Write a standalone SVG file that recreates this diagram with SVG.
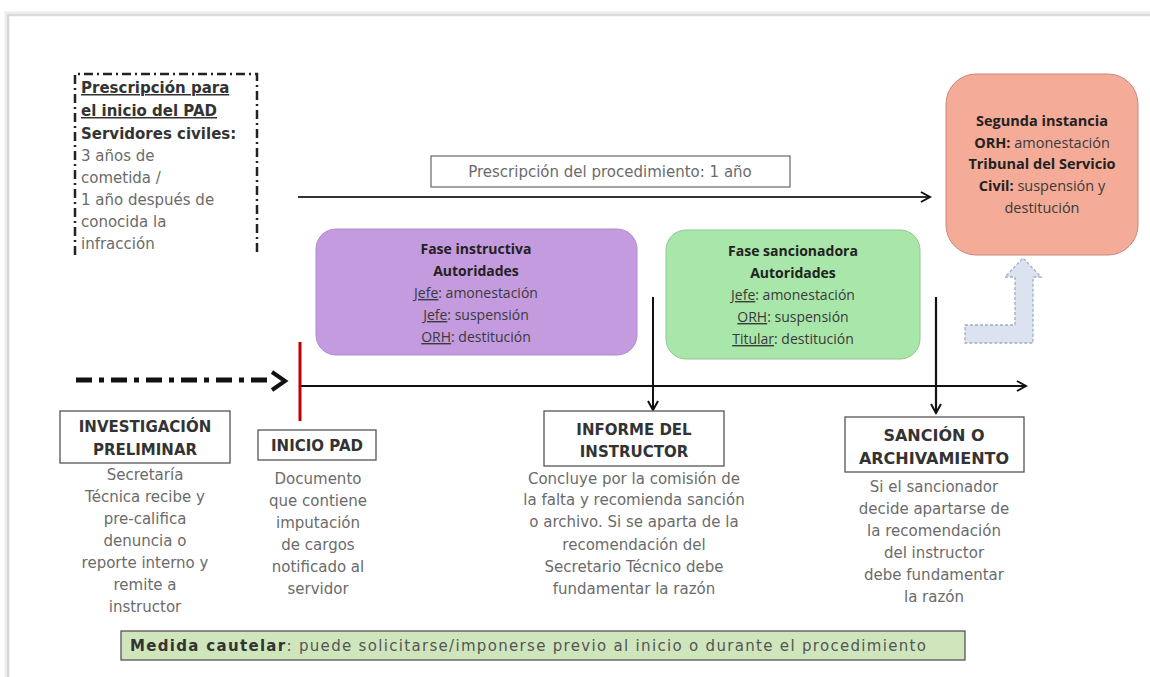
<svg xmlns="http://www.w3.org/2000/svg" width="1150" height="677" viewBox="0 0 1150 677">
<defs>
<style>
.g{font-family:"DejaVu Sans","Liberation Sans",sans-serif;font-size:15px;fill:#6b6b6b;}
.gh{font-family:"DejaVu Sans","Liberation Sans",sans-serif;font-size:15px;font-weight:bold;fill:#333;}
.c{font-family:"Open Sans","Liberation Sans",sans-serif;font-size:14px;fill:#3a3a3a;}
.s{font-size:14.5px;}
.cb{font-weight:bold;fill:#222;}
.box{fill:#fff;stroke:#555;stroke-width:1.3;}
.mid{text-anchor:middle;}
.u{text-decoration:underline;}
</style>
<marker id="ah" markerWidth="12" markerHeight="12" refX="10" refY="6" orient="auto" markerUnits="userSpaceOnUse">
<path d="M1,1 L10,6 L1,11" fill="none" stroke="#111" stroke-width="2"/>
</marker>
</defs>
<rect width="1150" height="677" fill="#fff"/>
<!-- frame -->
<path d="M7,677 L7,14 L1150,14" fill="none" stroke="#ececec" stroke-width="5"/>
<path d="M8,677 L8,15 L1150,15" fill="none" stroke="#c8c8c8" stroke-width="1.2"/>

<g id="connectors">
<line x1="298" y1="197" x2="930" y2="197" stroke="#333" stroke-width="2" marker-end="url(#ah)"/>
<line x1="76" y1="380" x2="268" y2="380" stroke="#111" stroke-width="5" stroke-dasharray="16 7 5 7"/>
<path d="M272,372 L285,381 L272,390" fill="none" stroke="#111" stroke-width="4"/>
<line x1="300" y1="386" x2="1026" y2="386" stroke="#111" stroke-width="2.2" marker-end="url(#ah)"/>
<line x1="300" y1="342" x2="300" y2="421" stroke="#c00000" stroke-width="3"/>
<line x1="653" y1="297" x2="653" y2="410" stroke="#111" stroke-width="2" marker-end="url(#ah)"/>
<line x1="936" y1="297" x2="936" y2="413" stroke="#111" stroke-width="2.2" marker-end="url(#ah)"/>
<path id="bent-arrow" d="M965,325 L1015,325 L1015,277 L1005,277 L1023,258 L1041,277 L1033,277 L1033,343 L965,343 Z" fill="#dbe3f1" stroke="#a4acc0" stroke-width="1.3" stroke-dasharray="3 2"/>
</g>

<g id="prescripcion-pad">
<path d="M75,255 L75,74 L257,74 L257,255" fill="none" stroke="#222" stroke-width="2.5" stroke-dasharray="9 4 2 4"/>
<text x="81" y="93" class="gh u">Prescripción para</text>
<text x="81" y="116" class="gh u">el inicio del PAD</text>
<text x="81" y="139" class="gh">Servidores civiles:</text>
<text x="81" y="161" class="g">3 años de</text>
<text x="81" y="183" class="g">cometida /</text>
<text x="81" y="205" class="g">1 año después de</text>
<text x="81" y="227" class="g">conocida la</text>
<text x="81" y="249" class="g">infracción</text>
</g>

<g id="prescripcion-procedimiento">
<rect x="431" y="156" width="359" height="31" fill="#fff" stroke="#666" stroke-width="1.2"/>
<text x="610" y="177" class="g mid">Prescripción del procedimiento: 1 año</text>
</g>

<g id="fase-instructiva">
<rect x="316" y="229" width="321" height="126" rx="20" fill="#c49bdf" stroke="#b08ccc" stroke-width="1"/>
<text x="476" y="254" class="c cb mid">Fase instructiva</text>
<text x="476" y="276" class="c cb mid">Autoridades</text>
<text x="476" y="298" class="c mid"><tspan class="u">Jefe</tspan>: amonestación</text>
<text x="476" y="320" class="c mid"><tspan class="u">Jefe</tspan>: suspensión</text>
<text x="476" y="342" class="c mid"><tspan class="u">ORH</tspan>: destitución</text>
</g>

<g id="fase-sancionadora">
<rect x="666" y="230" width="254" height="129" rx="20" fill="#a9e6a9" stroke="#90c890" stroke-width="1"/>
<text x="793" y="256" class="c cb mid">Fase sancionadora</text>
<text x="793" y="278" class="c cb mid">Autoridades</text>
<text x="793" y="300" class="c mid"><tspan class="u">Jefe</tspan>: amonestación</text>
<text x="793" y="322" class="c mid"><tspan class="u">ORH</tspan>: suspensión</text>
<text x="793" y="344" class="c mid"><tspan class="u">Titular</tspan>: destitución</text>
</g>

<g id="segunda-instancia">
<rect x="946" y="74" width="192" height="181" rx="30" fill="#f4ab98" stroke="#c8887a" stroke-width="1"/>
<text x="1042" y="126" class="c s cb mid">Segunda instancia</text>
<text x="1042" y="148" class="c s mid"><tspan class="cb">ORH:</tspan> amonestación</text>
<text x="1042" y="169" class="c s cb mid">Tribunal del Servicio</text>
<text x="1042" y="191" class="c s mid"><tspan class="cb">Civil:</tspan> suspensión y</text>
<text x="1042" y="213" class="c s mid">destitución</text>
</g>

<g id="investigacion-preliminar">
<rect x="60" y="411" width="170" height="52" class="box"/>
<text x="145" y="432" class="gh mid">INVESTIGACIÓN</text>
<text x="145" y="455" class="gh mid">PRELIMINAR</text>
<text x="145" y="480" class="g mid">Secretaría</text>
<text x="145" y="502" class="g mid">Técnica recibe y</text>
<text x="145" y="524" class="g mid">pre-califica</text>
<text x="145" y="546" class="g mid">denuncia o</text>
<text x="145" y="568" class="g mid">reporte interno y</text>
<text x="145" y="590" class="g mid">remite a</text>
<text x="145" y="612" class="g mid">instructor</text>
</g>

<g id="inicio-pad">
<rect x="258" y="430" width="118" height="30" class="box" stroke="#888"/>
<text x="317" y="451" class="gh mid">INICIO PAD</text>
<text x="318" y="484" class="g mid">Documento</text>
<text x="318" y="506" class="g mid">que contiene</text>
<text x="318" y="528" class="g mid">imputación</text>
<text x="318" y="550" class="g mid">de cargos</text>
<text x="318" y="572" class="g mid">notificado al</text>
<text x="318" y="594" class="g mid">servidor</text>
</g>

<g id="informe-instructor">
<rect x="544" y="411" width="180" height="55" class="box"/>
<text x="634" y="435" class="gh mid">INFORME DEL</text>
<text x="634" y="457" class="gh mid">INSTRUCTOR</text>
<text x="634" y="484" class="g mid">Concluye por la comisión de</text>
<text x="634" y="505" class="g mid">la falta y recomienda sanción</text>
<text x="634" y="527" class="g mid">o archivo. Si se aparta de la</text>
<text x="634" y="550" class="g mid">recomendación del</text>
<text x="634" y="572" class="g mid">Secretario Técnico debe</text>
<text x="634" y="594" class="g mid">fundamentar la razón</text>
</g>

<g id="sancion-archivamiento">
<rect x="845" y="417" width="179" height="55" class="box"/>
<text x="934" y="441" class="gh mid" style="font-size:16px">SANCIÓN O</text>
<text x="934" y="464" class="gh mid" style="font-size:16px">ARCHIVAMIENTO</text>
<text x="934" y="492" class="g mid">Si el sancionador</text>
<text x="934" y="514" class="g mid">decide apartarse de</text>
<text x="934" y="536" class="g mid">la recomendación</text>
<text x="934" y="558" class="g mid">del instructor</text>
<text x="934" y="580" class="g mid">debe fundamentar</text>
<text x="934" y="602" class="g mid">la razón</text>
</g>

<g id="medida-cautelar">
<rect x="121" y="631" width="844" height="29" fill="#cfe6bd" stroke="#555" stroke-width="1.3"/>
<text x="130" y="651" class="g" style="font-size:15px" textLength="796" lengthAdjust="spacing"><tspan class="gh" style="font-size:15px">Medida cautelar</tspan><tspan fill="#555">: puede solicitarse/imponerse  previo al inicio  o durante el procedimiento</tspan></text>
</g>
</svg>
